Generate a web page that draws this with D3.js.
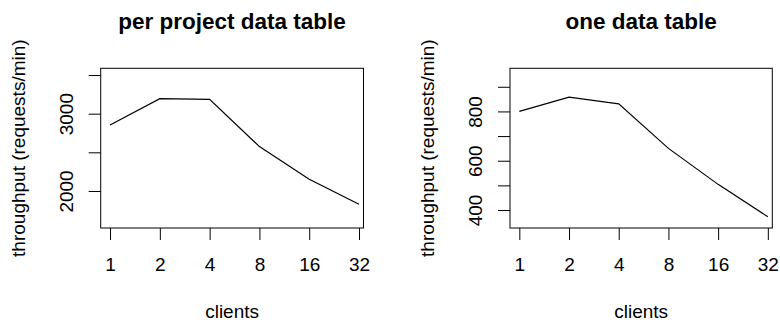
<!DOCTYPE html>
<html>
<head>
<meta charset="utf-8">
<script src="https://cdn.jsdelivr.net/npm/d3@7"></script>
<style>
  body { margin: 0; background: #fff; }
  svg { display: block; font-family: "Liberation Sans", Arial, Helvetica, sans-serif; }
</style>
</head>
<body>
<svg id="chart" width="780" height="320"></svg>
<script>
// data
const clients = [1, 2, 4, 8, 16, 32];
const perProjectThroughput = [2854, 3194, 3186, 2574, 2152, 1829];
const oneTableThroughput = [800, 858, 831, 650, 504, 373];

const perProjectTicks = [2000, 2500, 3000, 3500];
const perProjectLabels = [2000, 3000];
const oneTableTicks = [400, 500, 600, 700, 800, 900];
const oneTableLabels = [400, 600, 800];

const titles = ['per project data table', 'one data table'];
const xTitle = 'clients';
const yTitle = 'throughput (requests/min)';

const svg = d3.select('#chart');

const panels = [
  { left: 100.7, right: 363.5, yDomain: [1521, 3587], values: perProjectThroughput,
    ticks: perProjectTicks, labels: perProjectLabels, title: titles[0] },
  { left: 510, right: 772.3, yDomain: [327, 975], values: oneTableThroughput,
    ticks: oneTableTicks, labels: oneTableLabels, title: titles[1] }
];

const boxTop = 68.3, boxBottom = 228;

panels.forEach(p => {
  const g = svg.append('g');

  const x = d3.scaleLog().base(2)
    .domain([0.878, 34.06])
    .range([p.left, p.right]);

  const y = d3.scaleLinear()
    .domain(p.yDomain)
    .range([boxBottom, boxTop]);

  // plot box
  g.append('rect')
    .attr('x', p.left)
    .attr('y', boxTop)
    .attr('width', p.right - p.left)
    .attr('height', boxBottom - boxTop)
    .attr('fill', 'none')
    .attr('stroke', '#000')
    .attr('stroke-width', 1);

  // x axis
  const xAxis = g.append('g')
    .attr('transform', `translate(0, ${boxBottom})`)
    .call(d3.axisBottom(x).tickValues(clients).tickFormat(d3.format('d')).tickSize(12).tickSizeOuter(0));
  xAxis.select('.domain').remove();
  xAxis.selectAll('.tick line').attr('stroke', '#000');
  xAxis.selectAll('.tick text')
    .attr('y', 43)
    .attr('dy', 0)
    .attr('fill', '#000')
    .style('font-size', '19px')
    .style('font-family', '"Liberation Sans", Arial, sans-serif');

  // y axis (only some ticks labelled, like R drops crowded ones)
  const yAxis = g.append('g')
    .attr('transform', `translate(${p.left}, 0)`)
    .call(d3.axisLeft(y).tickValues(p.ticks)
      .tickFormat(d => p.labels.includes(d) ? d : '')
      .tickSize(12).tickSizeOuter(0));
  yAxis.select('.domain').remove();
  yAxis.selectAll('.tick line').attr('stroke', '#000');
  yAxis.selectAll('.tick text')
    .attr('transform', 'rotate(-90)')
    .attr('x', 0)
    .attr('y', -27.7)
    .attr('dy', 0)
    .attr('text-anchor', 'middle')
    .attr('fill', '#000')
    .style('font-size', '19px')
    .style('font-family', '"Liberation Sans", Arial, sans-serif');

  // line
  const line = d3.line()
    .x((d, i) => x(clients[i]))
    .y(d => y(d));

  g.append('path')
    .datum(p.values)
    .attr('d', line)
    .attr('fill', 'none')
    .attr('stroke', '#000')
    .attr('stroke-width', 1.2);

  const cx = (p.left + p.right) / 2;

  // title
  g.append('text')
    .attr('x', cx)
    .attr('y', 28.5)
    .attr('text-anchor', 'middle')
    .style('font-size', '22.5px')
    .style('font-weight', 'bold')
    .text(p.title);

  // x label
  g.append('text')
    .attr('x', cx)
    .attr('y', 317.5)
    .attr('text-anchor', 'middle')
    .style('font-size', '19px')
    .text(xTitle);

  // y label
  g.append('text')
    .attr('transform', `translate(${p.left - 76}, ${(boxTop + boxBottom) / 2}) rotate(-90)`)
    .attr('text-anchor', 'middle')
    .style('font-size', '19px')
    .text(yTitle);
});
</script>
</body>
</html>
